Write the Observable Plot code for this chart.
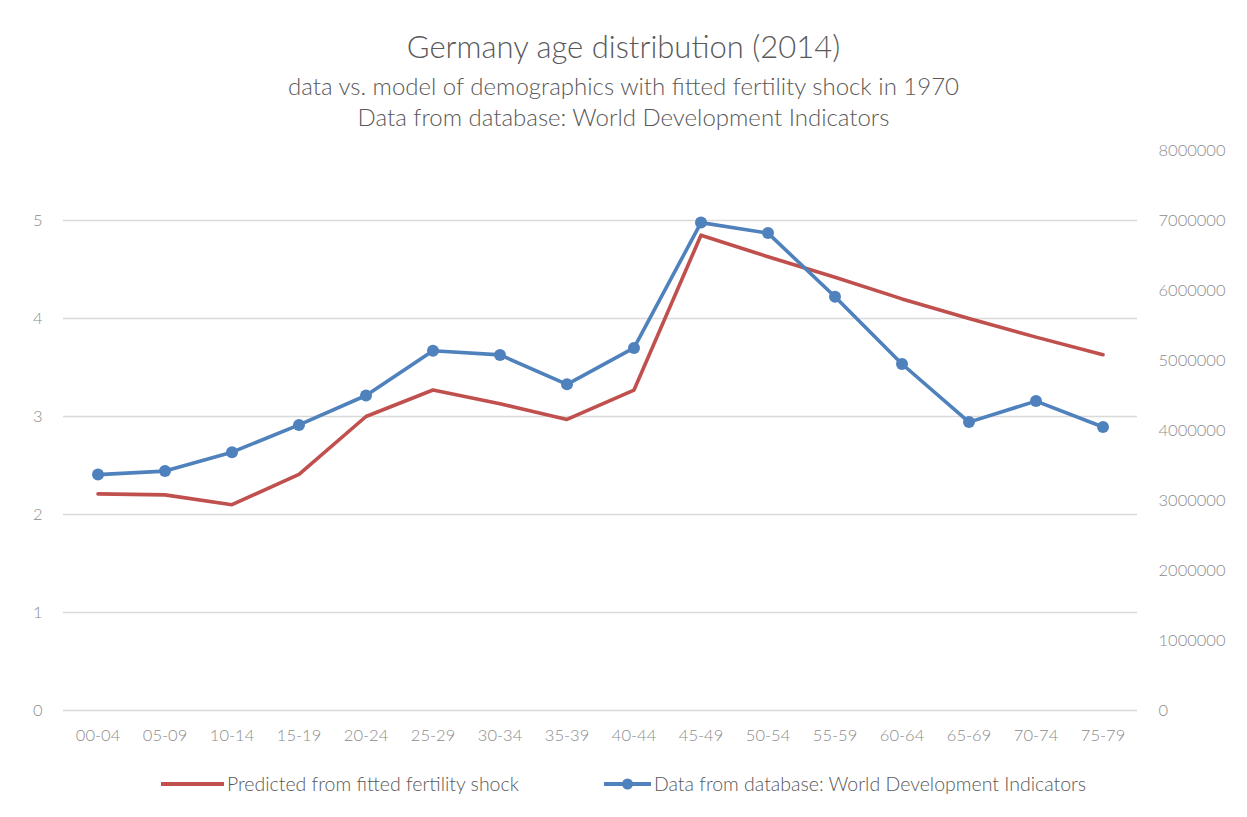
<!DOCTYPE html>
<html>
<head>
<meta charset="utf-8">
<script src="https://cdn.jsdelivr.net/npm/d3@7"></script>
<script src="https://cdn.jsdelivr.net/npm/@observablehq/plot@0.6"></script>
<style>
  html, body { margin: 0; padding: 0; background: #fff; }
  body { width: 1247px; height: 817px; font-family: Lato, "Open Sans", sans-serif; font-weight: 300; color: #595959; position: relative; overflow: hidden; }
  .t { position: absolute; left: 0; width: 1247px; text-align: center; white-space: nowrap; line-height: 1.2; }
  #title { top: 28px; font-size: 31px; }
  #sub1 { top: 72px; font-size: 24px; }
  #sub2 { top: 103px; font-size: 24px; }
  #chart { position: absolute; left: 0; top: 135px; }
  #legend { position: absolute; top: 771px; left: 0; width: 1247px; display: flex; justify-content: center; gap: 85px; font-size: 19.5px; line-height: 26px; color: #595959; }
  .item { display: flex; align-items: center; gap: 3px; }
</style>
</head>
<body>
<div class="t" id="title">Germany age distribution (2014)</div>
<div class="t" id="sub1">data vs. model of demographics with fitted fertility shock in 1970</div>
<div class="t" id="sub2">Data from database: World Development Indicators</div>
<div id="chart"></div>
<div id="legend">
  <div class="item"><svg width="63" height="10"><line x1="0" y1="5" x2="63" y2="5" stroke="#C0504D" stroke-width="4"/></svg><span>Predicted from fitted fertility shock</span></div>
  <div class="item"><svg width="47" height="14"><line x1="0" y1="7" x2="47" y2="7" stroke="#4F81BD" stroke-width="4"/><circle cx="23.5" cy="7" r="5.5" fill="#4F81BD"/></svg><span>Data from database: World Development Indicators</span></div>
</div>
<script>
const ageGroups = ["00-04","05-09","10-14","15-19","20-24","25-29","30-34","35-39","40-44","45-49","50-54","55-59","60-64","65-69","70-74","75-79"];
const predicted = [2.21,2.20,2.10,2.41,3.00,3.27,3.13,2.97,3.27,4.85,4.63,4.42,4.20,4.00,3.81,3.63];
const population = [3370000,3420000,3690000,4080000,4500000,5140000,5080000,4660000,5180000,6970000,6820000,5910000,4950000,4120000,4420000,4050000];
const leftTicks = [0,1,2,3,4,5];
const rightTicks = [0,1000000,2000000,3000000,4000000,5000000,6000000,7000000,8000000];

// left axis unit 5 corresponds to right axis 7,000,000
const ratio = 5 / 7000000;
const rows = ageGroups.map((g, i) => ({age: g, pred: predicted[i], pop: population[i]}));

const chart = Plot.plot({
  width: 1247,
  height: 622,
  marginTop: 15,
  marginBottom: 47,
  marginLeft: 63,
  marginRight: 110,
  style: {fontFamily: "Lato, 'Open Sans', sans-serif", fontWeight: 300, fontSize: "16.5px", color: "#8c8c8c", background: "white"},
  x: {type: "band", domain: ageGroups, padding: 0},
  y: {domain: [0, 8000000 * ratio]},
  marks: [
    Plot.ruleY(leftTicks, {stroke: "#d9d9d9", strokeWidth: 1.3}),
    Plot.axisX({tickSize: 0, tickPadding: 19, label: null, fill: "#8c8c8c"}),
    Plot.axisY(leftTicks, {anchor: "left", tickSize: 0, tickPadding: 21, label: null, fill: "#8c8c8c", tickFormat: d => String(d)}),
    Plot.axisY(rightTicks.map(v => v * ratio), {anchor: "right", tickSize: 0, tickPadding: 21, label: null, textAnchor: "start", fill: "#8c8c8c", tickFormat: v => String(Math.round(v / ratio))}),
    Plot.line(rows, {x: "age", y: "pred", stroke: "#C0504D", strokeWidth: 3.6}),
    Plot.line(rows, {x: "age", y: d => d.pop * ratio, stroke: "#4F81BD", strokeWidth: 3.6}),
    Plot.dot(rows, {x: "age", y: d => d.pop * ratio, r: 6, fill: "#4F81BD", stroke: "none"})
  ]
});
document.getElementById("chart").appendChild(chart);
</script>
</body>
</html>
